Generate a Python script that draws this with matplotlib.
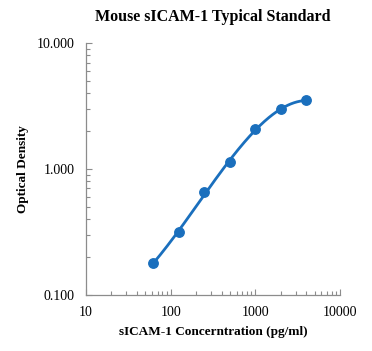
import matplotlib.pyplot as plt
import numpy as np
from matplotlib.ticker import FixedLocator, FuncFormatter, LogLocator, NullFormatter

# standard concentrations (pg/ml) and optical densities
concentration = [62.5, 125, 250, 500, 1000, 2000, 4000]
optical_density = [0.180, 0.315, 0.653, 1.136, 2.07, 2.98, 3.51]

x_ticks = [10, 100, 1000, 10000]
y_ticks = [0.1, 1, 10]

plt.rcParams["font.family"] = ["Liberation Serif", "DejaVu Serif"]

blue = "#1a6fbd"
spine_grey = "#8c8c8c"

fig = plt.figure(figsize=(3.72, 3.51), dpi=100)
ax = fig.add_axes([0.231, 0.160, 0.683, 0.717])

# trendline: cubic fit in log-log space, like the spreadsheet curve
lx = np.log10(concentration)
ly = np.log10(optical_density)
coef = np.polyfit(lx, ly, 3)
xs = np.linspace(lx[0] + 0.01, lx[-1], 200)
ax.plot(10 ** xs, 10 ** np.polyval(coef, xs), color=blue, lw=2.0, zorder=2)
ax.plot(concentration, optical_density, "o", color=blue, ms=6.8, zorder=3)

ax.set_xscale("log")
ax.set_yscale("log")
ax.set_xlim(10, 10000)
ax.set_ylim(0.1, 10)

ax.xaxis.set_major_locator(FixedLocator(x_ticks))
ax.yaxis.set_major_locator(FixedLocator(y_ticks))
ax.xaxis.set_minor_locator(LogLocator(base=10, subs=np.arange(2, 10)))
ax.yaxis.set_minor_locator(LogLocator(base=10, subs=np.arange(2, 10)))
ax.xaxis.set_minor_formatter(NullFormatter())
ax.yaxis.set_minor_formatter(NullFormatter())
ax.xaxis.set_major_formatter(FuncFormatter(lambda v, p: f"{v:.0f}"))
ax.yaxis.set_major_formatter(FuncFormatter(lambda v, p: f"{v:.3f}"))

for side in ["top", "right"]:
    ax.spines[side].set_visible(False)
for side in ["left", "bottom"]:
    ax.spines[side].set_color(spine_grey)
    ax.spines[side].set_linewidth(0.9)

ax.tick_params(which="both", direction="in", color=spine_grey, width=0.8)
ax.tick_params(which="major", length=4, labelsize=10, pad=8)
ax.tick_params(which="minor", length=3)

ax.set_title("Mouse sICAM-1 Typical Standard", fontsize=11.5, fontweight="bold", pad=16)
ax.set_xlabel("sICAM-1 Concerntration (pg/ml)", fontsize=9.5, fontweight="bold", labelpad=5)
ax.set_ylabel("Optical Density", fontsize=9.5, fontweight="bold", labelpad=6)

fig.savefig("out.png", dpi=100)
